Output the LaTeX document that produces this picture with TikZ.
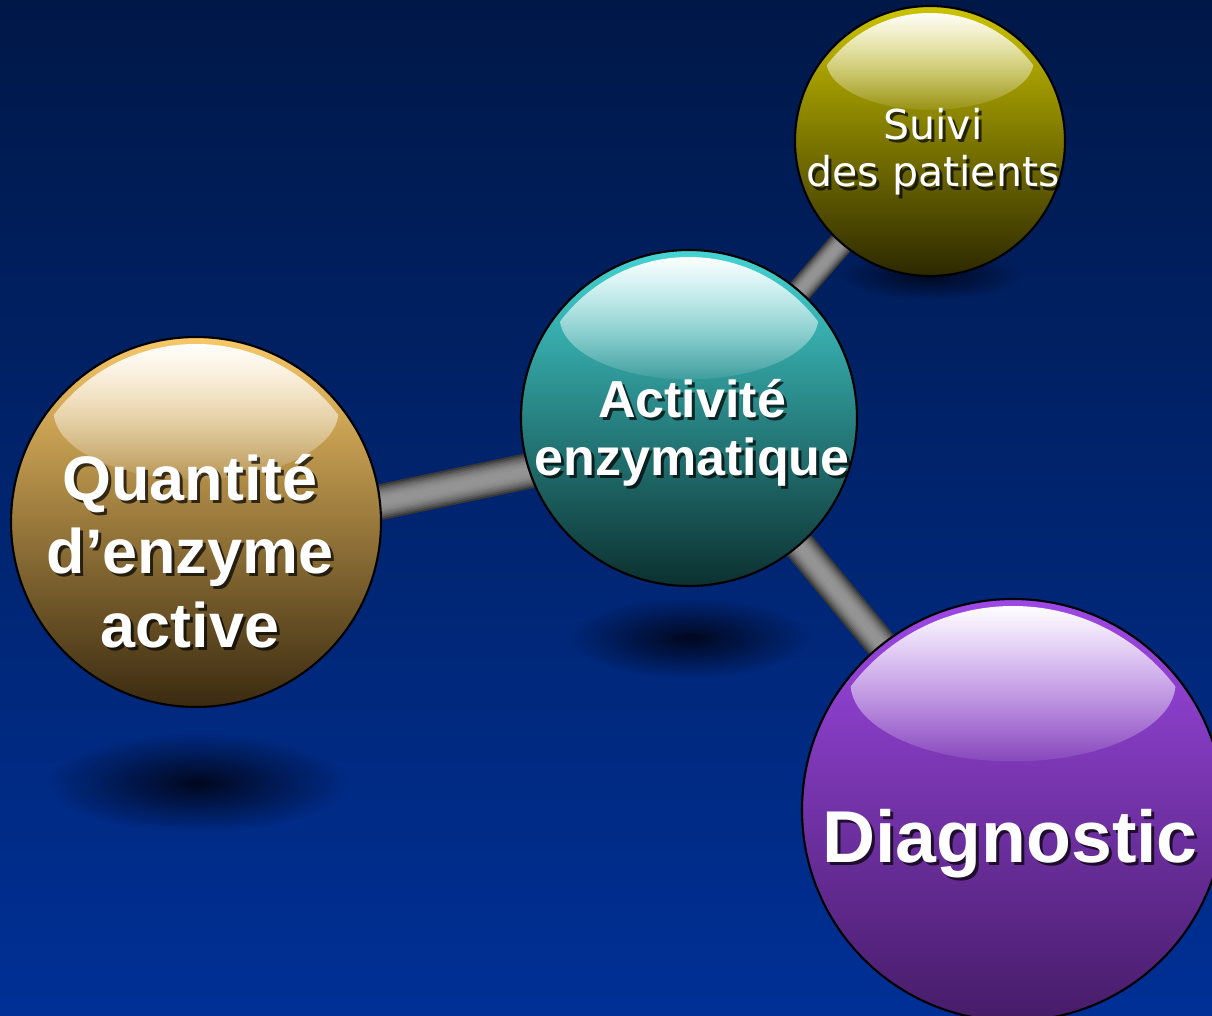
\documentclass[tikz,border=0pt]{standalone}
\usepackage{fontspec}
\setmainfont{Liberation Sans}
\newfontfamily\verdana{DejaVu Sans}
\usepackage{tikz}
\usetikzlibrary{positioning, calc, fadings, shadings}
\definecolor{bgtop}{HTML}{001848}
\definecolor{bgbot}{HTML}{003096}
\definecolor{shadowblue}{HTML}{000820}
\definecolor{qtetop}{HTML}{F8C868}
\definecolor{qtemid}{HTML}{D8A858}
\definecolor{qtebot}{HTML}{3A2A10}
\definecolor{acttop}{HTML}{44D4D4}
\definecolor{actmid}{HTML}{28A4A4}
\definecolor{actbot}{HTML}{0C3030}
\definecolor{suitop}{HTML}{CCC400}
\definecolor{suimid}{HTML}{A09A00}
\definecolor{suibot}{HTML}{2C2800}
\definecolor{diatop}{HTML}{9E48E6}
\definecolor{diamid}{HTML}{7C36B8}
\definecolor{diabot}{HTML}{461C68}

\tikzfading[name=gloss, top color=transparent!0, middle color=transparent!35, bottom color=transparent!92]
\tikzfading[name=blur, inner color=transparent!0, outer color=transparent!100]

\pgfdeclarelayer{bg}
\pgfdeclarelayer{rods}
\pgfsetlayers{bg,rods,main}

\tikzset{
	ball/.style={circle, draw=black, line width=0.6pt, inner sep=0pt, minimum size=#1},
	lbl/.style={anchor=base, align=center, text=white, inner sep=0pt},
}

% glossy cap on top of a ball: node, radius
\newcommand{\gloss}[2]{
	\begin{scope}
	\clip (#1.center) circle [radius=#2-0.07];
	\fill[white, path fading=gloss] ($(#1.center)+(0,0.6*#2)$) ellipse [x radius=0.77*#2, y radius=0.37*#2];
	\end{scope}
}
% white text with a dark drop shadow
\newcommand{\balltext}[4]{
	\node[lbl, text=black, opacity=0.7, #3] at ($(#2)+(0.03,-0.03)$) {#4};
	\node[lbl, #3] (#1) at (#2) {#4};
}
% grey rod between two balls
\newcommand{\rod}[3]{
	\foreach \f/\c in {1/22, 0.9/30, 0.8/37, 0.7/43, 0.6/48, 0.5/52, 0.4/55, 0.3/57, 0.2/58}
	\draw[line width=\f*#3, white!\c!black] (#1) -- (#2);
}

\begin{document}
\begin{tikzpicture}
\useasboundingbox (0,0) rectangle (12.12,10.15);

\begin{pgfonlayer}{bg}
\shade[top color=bgtop, bottom color=bgbot] (0,0) rectangle (12.12,10.15);
% shadows on the floor
\fill[shadowblue, path fading=blur] (1.97,2.32) ellipse [x radius=1.5, y radius=0.5];
\fill[shadowblue, path fading=blur] (6.90,3.77) ellipse [x radius=1.2, y radius=0.4];
\fill[shadowblue, path fading=blur] (9.30,7.40) ellipse [x radius=0.9, y radius=0.25];
\end{pgfonlayer}

\node[ball=3.7cm, top color=qtetop, middle color=qtemid, bottom color=qtebot] (qte) at (1.96,4.93) {};
\node[ball=3.36cm, top color=acttop, middle color=actmid, bottom color=actbot] (act) at (6.89,5.97) {};
\node[ball=2.7cm, top color=suitop, middle color=suimid, bottom color=suibot] (sui) at (9.30,8.74) {};
\node[ball=4.22cm, top color=diatop, middle color=diamid, bottom color=diabot] (dia) at (10.13,2.05) {};

\gloss{qte}{1.85}
\gloss{act}{1.68}
\gloss{sui}{1.35}
\gloss{dia}{2.11}

\begin{pgfonlayer}{rods}
\rod{[yshift=-0.19cm]qte.center}{[yshift=-0.19cm]act.center}{10.2pt}
\rod{act.center}{sui.center}{7.1pt}
\rod{[xshift=0.05cm]act.center}{[xshift=0.05cm]dia.center}{9.1pt}
\end{pgfonlayer}

\balltext{qtetxt}{$(qte.center)+(-0.06,-1.25)$}{font=\bfseries\fontsize{17.9}{20.8}\selectfont}{Quantité\\d’enzyme\\active}
\balltext{acttxt}{$(act.center)+(0.03,-0.57)$}{font=\bfseries\fontsize{14.8}{16.5}\selectfont}{Activité\\enzymatique}
\balltext{suitxt}{$(sui.center)+(0.03,-0.46)$}{font=\verdana\fontsize{11.7}{13.4}\selectfont}{Suivi\\des patients}
\balltext{diatxt}{$(dia.center)+(-0.03,-0.52)$}{font=\bfseries\fontsize{20.9}{25}\selectfont}{Diagnostic}

\end{tikzpicture}
\end{document}
